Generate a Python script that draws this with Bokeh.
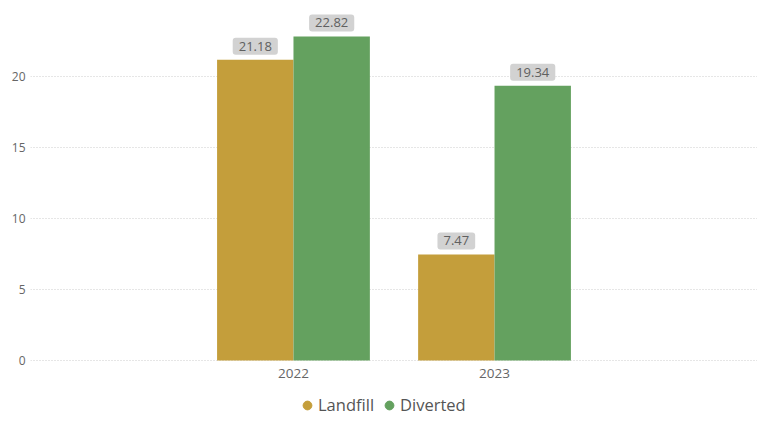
from bokeh.plotting import figure
from bokeh.models import ColumnDataSource, Range1d, FixedTicker, Legend, LegendItem
from bokeh.core.properties import value
from bokeh.embed import file_html
from bokeh.resources import INLINE

years = ["2022", "2023"]
landfill = [21.18, 7.47]
diverted = [22.82, 19.34]
y_ticks = [0, 5, 10, 15, 20]

LANDFILL_COLOR = "#C49E3B"
DIVERTED_COLOR = "#64A15F"
FONT = "Open Sans"

xs = list(range(len(years)))
bar_w = 0.38
src_l = ColumnDataSource(dict(x=[i - bar_w / 2 for i in xs], top=landfill,
                              label=[f"{v:.2f}" for v in landfill]))
src_d = ColumnDataSource(dict(x=[i + bar_w / 2 for i in xs], top=diverted,
                              label=[f"{v:.2f}" for v in diverted]))
src_years = ColumnDataSource(dict(x=xs, y=[0] * len(xs), text=years))

p = figure(width=757, height=421, output_backend="svg", toolbar_location=None,
           x_axis_location=None,
           x_range=Range1d(-1.308, 2.308), y_range=Range1d(-4.296, 25.35),
           min_border_left=30, min_border_right=0, min_border_top=0, min_border_bottom=0)
p.outline_line_color = None

p.vbar(x="x", top="top", width=bar_w, source=src_l, fill_color=LANDFILL_COLOR, line_color=None)
p.vbar(x="x", top="top", width=bar_w, source=src_d, fill_color=DIVERTED_COLOR, line_color=None)

for src in (src_l, src_d):
    p.text(x="x", y="top", text="label", source=src, text_align="center", text_baseline="bottom",
           y_offset=-5, text_font=value(FONT), text_font_size="13px", text_color="#606060",
           background_fill_color="#D2D2D2", border_radius=3,
           padding=dict(left=6, right=6, top=4, bottom=4))

# category labels under the bars
p.text(x="x", y="y", text="text", source=src_years, text_align="center", text_baseline="top",
       y_offset=9, text_font=value(FONT), text_font_size="13.5px", text_color="#666666")

p.yaxis.ticker = FixedTicker(ticks=y_ticks)
p.yaxis.axis_line_color = None
p.yaxis.major_tick_line_color = None
p.yaxis.minor_tick_line_color = None
p.yaxis.major_tick_out = 0
p.yaxis.major_tick_in = 0
p.yaxis.major_label_standoff = 5
p.yaxis.major_label_text_font = FONT
p.yaxis.major_label_text_font_size = "12px"
p.yaxis.major_label_text_color = "#666666"

p.xgrid.grid_line_color = None
p.ygrid.ticker = FixedTicker(ticks=y_ticks)
p.ygrid.grid_line_color = "#CCCCCC"
p.ygrid.grid_line_dash = "1 2"
p.ygrid.grid_line_width = 1

# legend (circle markers)
r_l = p.scatter(x=[0], y=[-100], marker="circle", color=LANDFILL_COLOR)
r_d = p.scatter(x=[0], y=[-100], marker="circle", color=DIVERTED_COLOR)
legend = Legend(items=[LegendItem(label="Landfill", renderers=[r_l]),
                       LegendItem(label="Diverted", renderers=[r_d])],
                orientation="horizontal", location=(266, 5),
                glyph_width=22, glyph_height=22, label_height=20,
                label_standoff=0, spacing=4, padding=0, margin=0,
                border_line_color=None, background_fill_alpha=0,
                label_text_font=FONT, label_text_font_size="16.5px",
                label_text_color="#555555")
p.add_layout(legend, "center")

open("out.html", "w").write(file_html(p, INLINE))
